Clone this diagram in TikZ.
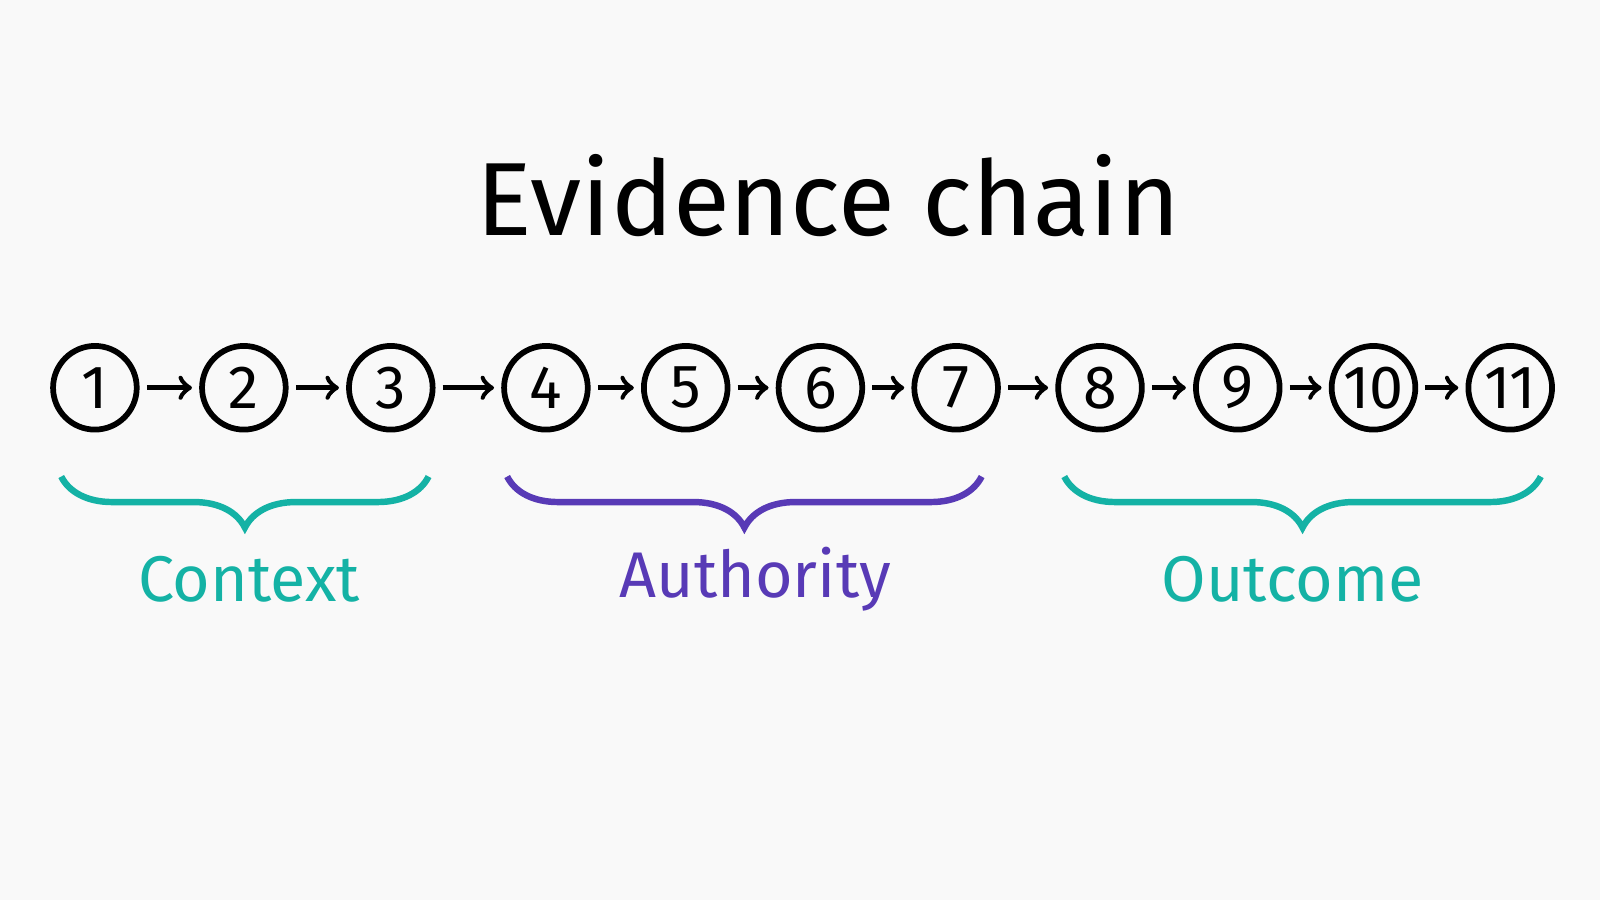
\documentclass[tikz,border=0pt]{standalone}
\usepackage{fontspec}
\setmainfont{Fira Sans}
\usetikzlibrary{positioning,arrows,decorations.pathreplacing}
\definecolor{tealink}{RGB}{20,178,165}
\definecolor{purpleink}{RGB}{88,58,182}
\begin{document}
\begin{tikzpicture}[
    stage/.style={circle, draw, line width=1.6pt, minimum size=0.82cm, inner sep=0pt, font=\fontsize{17}{17}\selectfont},
    arrow/.style={->, >=to, line width=1.4pt, shorten <=2pt, shorten >=2pt},
    group/.style={decorate, decoration={brace, mirror, amplitude=0.5cm, aspect=0.5}, line width=1.8pt}
]
    \fill[white!95!gray] (0,0) rectangle (15.68,8.82);
    \node[font=\fontsize{29}{29}\selectfont] (title) at (8.12,6.9) {Evidence chain};

    % chain of steps
    \foreach \i/\x in {1/0.93,2/2.39,3/3.83,4/5.35,5/6.72,6/8.04,7/9.37,8/10.78,9/12.13,10/13.46,11/14.80}
        \node[stage] (n\i) at (\x,5.02) {\i};
    \foreach \i [count=\j from 2] in {1,...,10}
        \draw[arrow] (n\i) -- (n\j);

    % groups
    \coordinate (c1) at (0.60,4.15); \coordinate (c2) at (4.20,4.15);
    \coordinate (a1) at (4.97,4.15); \coordinate (a2) at (9.62,4.15);
    \coordinate (o1) at (10.43,4.15); \coordinate (o2) at (15.10,4.15);
    \draw[group, tealink] (c1) -- (c2);
    \draw[group, purpleink] (a1) -- (a2);
    \draw[group, tealink] (o1) -- (o2);
    \node[text=tealink, font=\fontsize{18}{18}\selectfont] (context) at (2.44,3.14) {Context};
    \node[text=purpleink, font=\fontsize{18}{18}\selectfont] (authority) at (7.40,3.14) {Authority};
    \node[text=tealink, font=\fontsize{18}{18}\selectfont] (outcome) at (12.67,3.14) {Outcome};
\end{tikzpicture}
\end{document}
